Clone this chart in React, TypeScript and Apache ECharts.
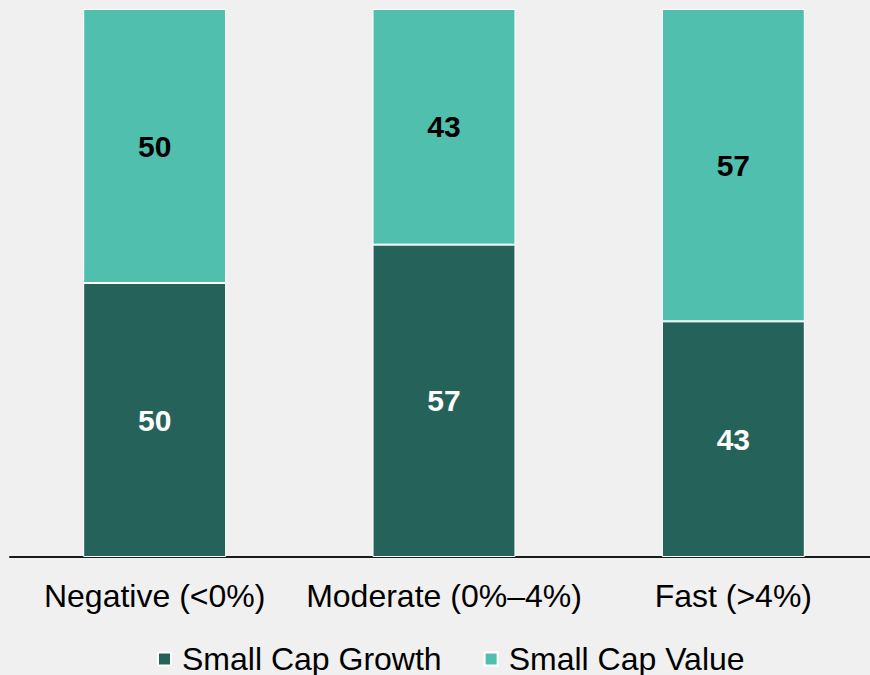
import React, { useEffect, useRef } from "react";
import * as echarts from "echarts";

const categories = ["Negative (<0%)", "Moderate (0%–4%)", "Fast (>4%)"];
const growthValues = [50, 57, 43];
const valueValues = [50, 43, 57];
const seriesNames = ["Small Cap Growth", "Small Cap Value"];

export default function App() {
  const ref = useRef<HTMLDivElement>(null);
  useEffect(() => {
    if (!ref.current) return;
    const chart = echarts.init(ref.current, undefined, { renderer: "svg" });
    const font = "Arial, 'Liberation Sans', Helvetica, sans-serif";
    chart.setOption({
      animation: false,
      backgroundColor: "#f0f0f0",
      textStyle: { fontFamily: font },
      grid: { left: 10, width: 868, top: 9, height: 548, containLabel: false },
      legend: {
        left: 157,
        top: 643,
        padding: 0,
        icon: "rect",
        itemWidth: 13,
        itemHeight: 13,
        itemGap: 42,
        textStyle: {
          fontSize: 32,
          lineHeight: 30,
          color: "#000",
          fontFamily: font,
          padding: [0, 0, 0, 6],
        },
        data: seriesNames,
      },
      xAxis: {
        type: "category",
        data: categories,
        axisLine: { show: true, lineStyle: { color: "#1a1a1a", width: 2 } },
        axisTick: { show: false },
        axisLabel: { fontSize: 32, color: "#000", margin: 23, fontFamily: font, interval: 0 },
        splitLine: { show: false },
      },
      yAxis: {
        type: "value",
        min: 0,
        max: 100,
        show: false,
        splitLine: { show: false },
      },
      series: [
        {
          name: seriesNames[0],
          type: "bar",
          stack: "total",
          data: growthValues,
          barWidth: "49.4%",
          itemStyle: { color: "#25635a", borderColor: "#ffffff", borderWidth: 1 },
          label: {
            show: true,
            position: "inside",
            color: "#ffffff",
            fontWeight: "bold",
            fontSize: 30,
            fontFamily: font,
          },
        },
        {
          name: seriesNames[1],
          type: "bar",
          stack: "total",
          data: valueValues,
          barWidth: "49.4%",
          itemStyle: { color: "#50bfae", borderColor: "#ffffff", borderWidth: 1 },
          label: {
            show: true,
            position: "inside",
            color: "#000000",
            fontWeight: "bold",
            fontSize: 30,
            fontFamily: font,
          },
        },
      ],
    });
    return () => chart.dispose();
  }, []);
  return (
    <div
      style={{
        position: "absolute",
        left: 0,
        top: 0,
        width: 870,
        height: 675,
        overflow: "hidden",
        background: "#f0f0f0",
      }}
    >
      <div ref={ref} style={{ width: 880, height: 675 }} />
    </div>
  );
}
